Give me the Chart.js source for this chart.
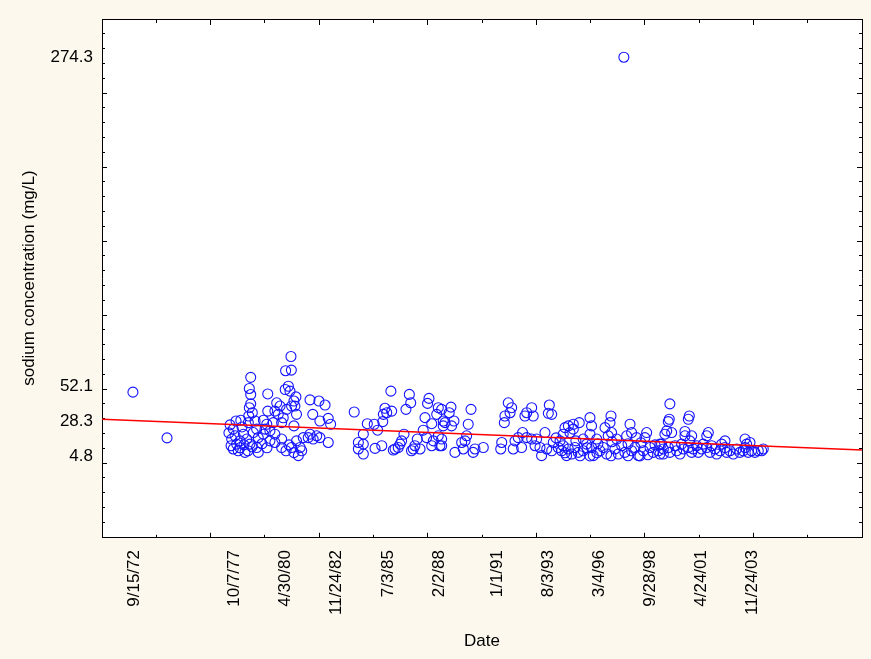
<!DOCTYPE html>
<html>
<head>
<meta charset="utf-8">
<title>Sodium concentration</title>
<script src="https://cdn.jsdelivr.net/npm/chart.js@4.4.0/dist/chart.umd.min.js"></script>
<style>
    html, body { margin: 0; padding: 0; background: #fdf8ee; }
    #chart { display: block; }
</style>
</head>
<body>
<canvas id="chart" width="871" height="659"></canvas>
<script>
// sample dates as decimal years
const sampleYear = [
    1972.74, 1974.46,
    1980.71, 1980.44, 1980.73, 1978.68, 1978.61, 1978.68, 1979.54, 1980.58, 1980.66, 1980.42,
    1980.96, 1980.86, 1981.67, 1982.12, 1982.43, 1978.68, 1978.61, 1978.76, 1978.58, 1979.54,
    1979.99, 1980.16, 1979.90, 1980.07, 1980.32, 1980.49, 1980.74, 1980.91, 1980.99, 1981.81,
    1982.17, 1982.59, 1982.71, 1978.18, 1978.56, 1978.90, 1979.32, 1979.49, 1979.82, 1980.24,
    1980.86, 1977.80, 1977.89, 1977.72, 1977.97, 1977.80, 1978.05, 1978.39, 1978.14, 1978.31,
    1978.48, 1978.64, 1978.81, 1978.98, 1979.06, 1978.98, 1979.06, 1979.32, 1979.40, 1979.65,
    1979.90, 1979.90, 1980.24, 1980.24, 1980.74, 1980.99, 1981.17, 1981.08, 1981.25, 1981.33,
    1981.58, 1981.83, 1982.01, 1982.17, 1982.59, 1981.67,
    1977.58, 1977.69, 1978.14, 1978.34, 1978.54, 1978.74, 1979.25, 1979.50, 1979.65, 1980.46,
    1980.61, 1980.86, 1977.64, 1978.24, 1977.94,
    1985.75, 1986.68, 1986.75, 1986.51, 1987.67, 1987.60, 1988.14, 1988.06, 1985.45, 1985.54,
    1985.79, 1985.37, 1983.90, 1985.34, 1984.91, 1984.56, 1985.08, 1987.47, 1987.81, 1987.38,
    1988.39, 1988.39, 1984.36, 1984.11, 1984.11, 1984.36, 1984.36, 1984.95, 1985.29, 1986.41,
    1986.29, 1986.21, 1986.12, 1985.96, 1985.87, 1987.08, 1986.96, 1986.88, 1986.79, 1987.22,
    1987.55, 1987.89, 1987.81, 1988.14, 1988.22,
    1988.78, 1988.69, 1988.31, 1989.79, 1988.48, 1988.93, 1988.81, 1989.65, 1989.57, 1989.49,
    1989.32, 1989.40, 1988.98, 1989.99, 1989.90, 1990.41, 1988.31, 1988.31, 1991.67, 1991.84,
    1991.76, 1991.50, 1991.47, 1992.85, 1992.60, 1992.93, 1992.51, 1993.74, 1993.69, 1991.34,
    1991.29, 1992.01, 1991.92, 1992.17, 1992.39, 1992.34, 1992.60, 1992.85, 1993.10, 1993.27,
    1993.35, 1993.52, 1993.61, 1993.86, 1993.02,
    1993.86, 1995.79, 1995.87, 1995.79, 1996.85, 1996.80, 1996.55, 1996.88, 1996.71, 1995.25,
    1994.95, 1994.70, 1994.53, 1994.95, 1994.78, 1994.44, 1997.81, 1997.89, 1997.64, 1998.65,
    1998.56, 1998.14, 1993.94, 1994.19, 1994.44, 1994.36, 1994.70, 1994.87, 1995.03, 1995.20,
    1995.45, 1995.62, 1995.87, 1995.96, 1996.29, 1996.46, 1996.63, 1997.05, 1997.22, 1997.39,
    1997.55, 1997.89, 1998.06, 1998.23, 1998.48, 1998.82, 1998.98, 1999.24, 1999.49, 1995.45,
    1996.13, 1997.14, 1999.32, 1994.61, 1995.79, 1998.31, 1997.50,
    1994.08, 1995.08, 1996.19, 1996.90, 1997.71, 1998.36, 1999.07, 1994.53, 1995.29, 1996.14,
    1996.85, 1997.71, 1998.71, 1995.64, 1994.28,
    1999.82, 1999.79, 1999.74, 2000.80, 2000.75, 1999.66, 1999.91, 1999.57, 2000.58, 2000.58,
    2000.92, 2000.83, 2001.76, 2001.68, 2002.60, 2002.43, 2003.61, 2003.86, 2003.69, 1999.40,
    1999.49, 1999.32, 1999.74, 1999.82, 2000.08, 2000.16, 2000.33, 2000.41, 2000.50, 2000.75,
    2000.92, 2001.00, 2001.17, 2001.25, 2001.42, 2001.50, 2001.68, 2001.84, 2001.93, 2002.09,
    2002.18, 2002.35, 2002.60, 2002.68, 2002.85, 2003.02, 2003.19, 2003.35, 2003.52, 2003.61,
    2003.77, 2003.94, 2004.11, 2004.28, 2004.45, 2004.53
];

// sodium concentration, mg/L
const sodium = [
    47.9, 17.0,
    72.0, 62.4, 62.8, 57.9, 50.4, 46.3, 46.7, 51.9, 48.6, 49.7,
    44.7, 41.9, 42.7, 41.9, 39.2, 40.0, 37.4, 34.0, 31.8, 35.1,
    40.7, 38.5, 35.1, 32.9, 30.6, 36.3, 38.5, 38.5, 32.9, 32.9,
    28.4, 30.2, 26.2, 28.9, 27.3, 28.4, 28.9, 26.2, 27.3, 27.3,
    25.1, 22.9, 18.4, 16.2, 12.8, 9.5, 8.3, 7.2, 15.0, 19.5,
    16.2, 12.8, 20.6, 22.9, 17.2, 10.5, 7.2, 19.5, 22.9, 21.7,
    19.5, 13.9, 16.2, 10.5, 10.5, 15.0, 10.5, 5.0, 8.3, 17.2,
    17.2, 16.2, 18.4, 17.2, 13.9, 19.5,
    20.4, 11.7, 10.3, 12.3, 8.3, 11.0, 13.0, 10.3, 15.0, 8.3,
    12.3, 7.0, 25.8, 24.4, 28.4,
    48.6, 46.4, 40.7, 36.3, 43.7, 40.3, 37.4, 32.9, 37.0, 34.0,
    35.1, 32.9, 34.5, 28.0, 26.2, 26.6, 22.2, 30.7, 26.6, 22.2,
    28.4, 25.1, 19.5, 13.9, 9.5, 12.8, 6.1, 9.9, 11.7, 19.5,
    15.0, 12.8, 10.5, 9.5, 8.8, 16.2, 11.7, 9.5, 8.3, 9.5,
    17.2, 15.0, 11.7, 18.4, 11.7,
    37.8, 34.0, 36.3, 36.3, 27.3, 28.4, 25.1, 26.2, 18.4, 15.0,
    13.9, 9.5, 7.2, 9.5, 7.2, 10.5, 16.2, 11.7, 40.7, 37.4,
    34.0, 31.8, 27.3, 37.4, 34.0, 31.8, 31.8, 39.2, 33.6, 13.9,
    9.5, 15.0, 9.5, 17.2, 20.6, 10.5, 17.2, 16.2, 16.2, 10.5,
    5.0, 20.6, 9.5, 8.3, 11.7,
    32.9, 30.7, 25.1, 19.5, 31.8, 27.3, 23.9, 20.6, 18.4, 27.3,
    26.2, 25.1, 23.9, 22.9, 20.6, 19.5, 26.2, 20.6, 18.4, 20.6,
    17.2, 17.2, 13.9, 10.5, 11.7, 8.3, 9.5, 6.1, 10.5, 7.2,
    8.3, 12.8, 10.5, 5.0, 8.3, 10.5, 6.1, 9.5, 6.1, 11.7,
    7.2, 8.3, 10.5, 5.0, 8.3, 10.5, 7.2, 8.3, 6.1, 16.2,
    16.2, 16.2, 12.8, 5.0, 4.8, 4.8, 274.3,
    17.0, 15.0, 13.0, 14.4, 13.0, 13.7, 12.3, 6.9, 4.9, 6.9,
    4.9, 4.9, 5.6, 10.3, 15.0,
    40.0, 29.6, 28.0, 31.8, 29.6, 21.7, 20.6, 19.5, 21.3, 18.4,
    18.4, 15.0, 20.6, 18.4, 15.0, 12.8, 16.2, 13.9, 12.8, 12.8,
    9.5, 6.1, 10.5, 7.2, 11.7, 8.3, 6.1, 12.8, 9.5, 10.5,
    7.2, 9.5, 11.7, 7.2, 9.5, 12.8, 10.5, 7.2, 11.7, 9.5,
    6.1, 8.3, 10.5, 7.2, 8.3, 6.1, 9.5, 7.2, 8.3, 10.5,
    7.2, 8.3, 7.2, 8.3, 8.3, 9.5
];

const dateTickLabels = ['9/15/72', '10/7/77', '4/30/80', '11/24/82', '7/3/85', '2/2/88',
    '1/1/91', '8/3/93', '3/4/96', '9/28/98', '4/24/01', '11/24/03'];
const yTickLabels = [4.8, 28.3, 52.1, 274.3];

// fitted line, value at the left and right ends of the x axis
const trendSodium = [29.6, 8.8];

// axis limits: x in spreadsheet day numbers, y in mg/L
const xRange = [26000, 40000];
const yRange = [-50, 300];

const FONT = { family: 'Arial, "Liberation Sans", sans-serif', size: 17 };

function yearToDay(year) {
    return 25569 + (year - 1970) * 365.25;
}

function labelToDay(label) {
    const [m, d, yy] = label.split('/').map(Number);
    const year = yy < 50 ? 2000 + yy : 1900 + yy;
    return 25569 + Date.UTC(year, m - 1, d) / 86400000;
}

// short inward tick marks: a grid line dashed so only its two ends show
function tickDash(ctx, majorEvery, horizontal) {
    if (!ctx.tick) return [];
    const area = ctx.chart.chartArea;
    const span = horizontal ? area.width : area.height;
    const len = ctx.tick.value % majorEvery === 0 ? 5 : 3;
    return [len, span - 2 * len, len, 2000];
}

const plotBackground = {
    id: 'plotBackground',
    beforeDraw(chart) {
        const { ctx, chartArea: a } = chart;
        ctx.save();
        ctx.fillStyle = '#ffffff';
        ctx.fillRect(a.left, a.top, a.width, a.height);
        ctx.restore();
    }
};

const points = sampleYear.map((yr, i) => ({ x: yearToDay(yr), y: sodium[i] }));
const trend = [
    { x: xRange[0], y: trendSodium[0] },
    { x: xRange[1], y: trendSodium[1] }
];

new Chart(document.getElementById('chart'), {
    type: 'scatter',
    data: {
        datasets: [{
            type: 'line',
            data: trend,
            borderColor: '#ff0000',
            borderWidth: 1.5,
            pointRadius: 0,
            order: 0
        }, {
            data: points,
            pointRadius: 5,
            pointHoverRadius: 5,
            borderWidth: 1.1,
            borderColor: '#1414ff',
            backgroundColor: 'rgba(0,0,0,0)',
            order: 1
        }]
    },
    options: {
        responsive: false,
        animation: false,
        layout: { padding: { top: 15, right: 9, left: 0, bottom: 0 } },
        plugins: { legend: { display: false }, tooltip: { enabled: false } },
        scales: {
            x: {
                type: 'linear',
                position: 'bottom',
                min: xRange[0],
                max: xRange[1],
                afterBuildTicks: s => { s.ticks = dateTickLabels.map(l => ({ value: labelToDay(l) })); },
                afterFit: s => { s.height = 122; },
                ticks: {
                    autoSkip: false,
                    minRotation: 90,
                    maxRotation: 90,
                    padding: 13,
                    labelOffset: 2,
                    color: '#000',
                    font: FONT,
                    callback: (v, i) => dateTickLabels[i]
                },
                grid: { display: false, drawTicks: false },
                border: { color: '#000', width: 1 },
                title: { display: true, text: 'Date', color: '#000', font: FONT, padding: { top: 0, bottom: 7 } }
            },
            xMarks: {
                type: 'linear',
                position: 'top',
                min: xRange[0],
                max: xRange[1],
                afterFit: s => { s.height = 0; },
                ticks: { display: false, stepSize: 1000 },
                grid: { drawTicks: false, color: '#000', lineWidth: 1 },
                border: { color: '#000', width: 1, dash: ctx => tickDash(ctx, 2000, false) }
            },
            y: {
                type: 'linear',
                position: 'left',
                min: yRange[0],
                max: yRange[1],
                afterBuildTicks: s => { s.ticks = yTickLabels.map(v => ({ value: v })); },
                afterFit: s => { s.width = 102; },
                ticks: {
                    padding: 9,
                    color: '#000',
                    font: FONT,
                    callback: v => v.toFixed(1)
                },
                grid: { display: false, drawTicks: false },
                border: { color: '#000', width: 1 },
                title: {
                    display: true,
                    text: 'sodium concentration (mg/L)',
                    color: '#000',
                    font: FONT,
                    padding: { top: 19, bottom: 0 }
                }
            },
            yMarks: {
                type: 'linear',
                position: 'right',
                min: yRange[0],
                max: yRange[1],
                afterFit: s => { s.width = 0; },
                ticks: { display: false, stepSize: 10 },
                grid: { drawTicks: false, color: '#000', lineWidth: 1 },
                border: { color: '#000', width: 1, dash: ctx => tickDash(ctx, 50, true) }
            }
        }
    },
    plugins: [plotBackground]
});
</script>
</body>
</html>
